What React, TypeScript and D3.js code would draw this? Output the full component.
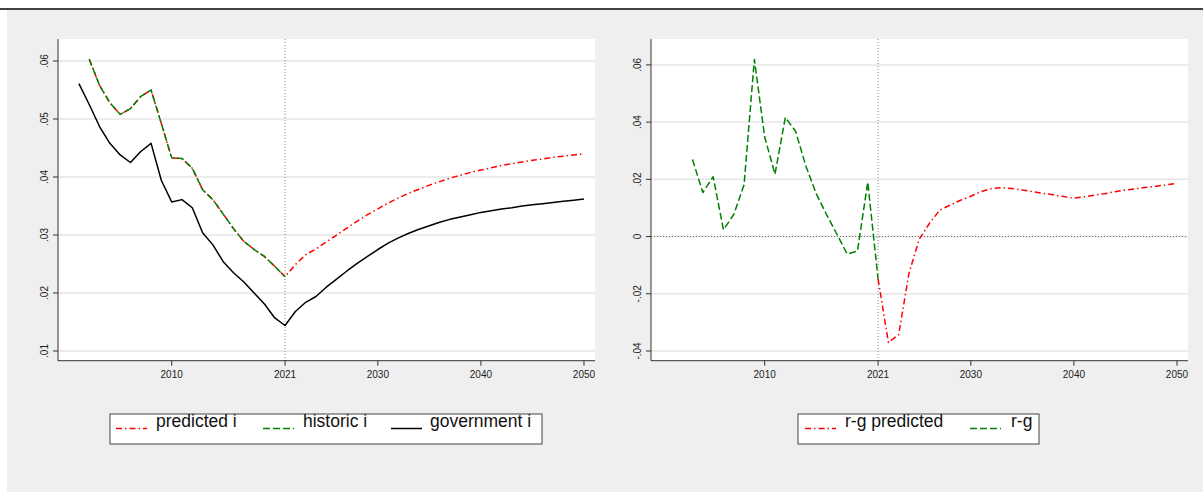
import React from "react";
import * as d3 from "d3";

// ---- data ----
const govStart = 2001;
const govI = [
  0.0561, 0.0525, 0.0487, 0.0458, 0.0438, 0.0425, 0.0444, 0.0458, 0.0394, 0.0357,
  0.0361, 0.0347, 0.0304, 0.0283, 0.0254, 0.0235, 0.0219, 0.0200, 0.0181, 0.0157,
  0.0144, 0.0168, 0.0184, 0.0194, 0.0210, 0.0224, 0.0238, 0.0251, 0.0263, 0.0275,
  0.0286, 0.0295, 0.0303, 0.0310, 0.0316, 0.0322, 0.0327, 0.0331, 0.0335, 0.0339,
  0.0342, 0.0345, 0.0347, 0.0350, 0.0352, 0.0354, 0.0356, 0.0358, 0.0360, 0.0362,
];

const histStart = 2002;
const historicI = [
  0.0603, 0.0558, 0.0528, 0.0508, 0.0518, 0.0539, 0.0550, 0.0492, 0.0433, 0.0432,
  0.0415, 0.0378, 0.0361, 0.0336, 0.0311, 0.0289, 0.0275, 0.0263, 0.0246, 0.0228,
];
// forecast part of predicted i, 2022-2050
const forecastI = [
  0.0249, 0.0266, 0.0276, 0.0288, 0.0300, 0.0312, 0.0324, 0.0335, 0.0345, 0.0355,
  0.0364, 0.0372, 0.0379, 0.0386, 0.0392, 0.0398, 0.0403, 0.0408, 0.0412, 0.0416,
  0.0420, 0.0423, 0.0426, 0.0429, 0.0431, 0.0434, 0.0436, 0.0438, 0.0440,
];
const predictedI = historicI.concat(forecastI);

const rgStart = 2003;
const rgHistoric = [
  0.0269, 0.0154, 0.0209, 0.0024, 0.0077, 0.0181, 0.0619, 0.0348, 0.0218, 0.0416,
  0.0368, 0.0246, 0.0150, 0.0077, 0.0009, -0.0061, -0.0051, 0.0190, -0.0148,
];
const rgPredStart = 2021;
const rgPredicted = [
  -0.0148, -0.0370, -0.0343, -0.0128, -0.0009, 0.0047, 0.0093, 0.0110, 0.0127, 0.0141,
  0.0157, 0.0168, 0.0171, 0.0168, 0.0163, 0.0157, 0.0151, 0.0146, 0.0140, 0.0134,
  0.0139, 0.0145, 0.0150, 0.0157, 0.0163, 0.0167, 0.0172, 0.0176, 0.0181, 0.0186,
];

const xTicks = [2010, 2021, 2030, 2040, 2050];
const leftYTicks = [0.01, 0.02, 0.03, 0.04, 0.05, 0.06];
const leftYLabels = [".01", ".02", ".03", ".04", ".05", ".06"];
const rightYTicks = [-0.04, -0.02, 0, 0.02, 0.04, 0.06];
const rightYLabels = ["-.04", "-.02", "0", ".02", ".04", ".06"];

const RED = "#ff0000";
const GREEN = "#008000";
const DASH = "7,3";
const DASHDOT = "6,3,1.5,3";
const FONT = "'Liberation Sans', Arial, sans-serif";

type Pt = [number, number];
const toPts = (start: number, vals: number[]): Pt[] => vals.map((v, i) => [start + i, v]);

type Series = { pts: Pt[]; color: string; dash?: string };

function Panel(props: {
  x0: number; x1: number; top: number; bottom: number;
  yDomain: [number, number]; yTicks: number[]; yLabels: string[];
  series: Series[]; zeroLine?: boolean; id: string;
}) {
  const { x0, x1, top, bottom, yDomain, yTicks, yLabels, series, zeroLine, id } = props;
  const x = d3.scaleLinear().domain([1998.97, 2051.07]).range([x0, x1]);
  const y = d3.scaleLinear().domain(yDomain).range([bottom, top]);
  const line = d3.line<Pt>().x(d => x(d[0])).y(d => y(d[1]));
  return (
    <g>
      <defs>
        <clipPath id={id}>
          <rect x={x0} y={top} width={x1 - x0} height={bottom - top} />
        </clipPath>
      </defs>
      <rect x={x0} y={top} width={x1 - x0} height={bottom - top} fill="#fff" />
      {yTicks.map(t => (
        <line key={t} x1={x0} x2={x1} y1={y(t)} y2={y(t)} stroke="#e6e6e6" strokeWidth={1.5} />
      ))}
      {zeroLine && (
        <line x1={x0} x2={x1} y1={y(0)} y2={y(0)} stroke="#666" strokeWidth={1} strokeDasharray="1,2" />
      )}
      <line x1={x(2021)} x2={x(2021)} y1={top} y2={bottom} stroke="#888" strokeWidth={1} strokeDasharray="1,2" />
      <g clipPath={`url(#${id})`}>
        {series.map((s, i) => (
          <path key={i} d={line(s.pts) || ""} fill="none" stroke={s.color}
            strokeWidth={1.5} strokeDasharray={s.dash} strokeLinejoin="round" />
        ))}
      </g>
      {/* axes */}
      <line x1={x0} x2={x0} y1={top} y2={bottom} stroke="#333" strokeWidth={1} />
      <line x1={x0} x2={x1} y1={bottom} y2={bottom} stroke="#333" strokeWidth={1} />
      {yTicks.map((t, i) => (
        <g key={t}>
          <line x1={x0 - 5} x2={x0} y1={y(t)} y2={y(t)} stroke="#333" />
          <text transform={`translate(${x0 - 14},${y(t)}) rotate(-90)`} textAnchor="middle"
            dy="0.35em" fontSize={10} fontFamily={FONT} fill="#222">{yLabels[i]}</text>
        </g>
      ))}
      {xTicks.map(t => (
        <g key={t}>
          <line x1={x(t)} x2={x(t)} y1={bottom} y2={bottom + 5} stroke="#333" />
          <text x={x(t)} y={bottom + 17} textAnchor="middle" fontSize={10}
            fontFamily={FONT} fill="#222">{t}</text>
        </g>
      ))}
    </g>
  );
}

function Legend(props: { x: number; w: number; items: { label: string; color: string; dash?: string; sx: number; tx: number }[] }) {
  const { x, w, items } = props;
  return (
    <g>
      <rect x={x} y={414} width={w} height={30} fill="#fff" stroke="#444" strokeWidth={1} />
      {items.map(it => (
        <g key={it.label}>
          <line x1={it.sx} x2={it.sx + 31} y1={428.5} y2={428.5} stroke={it.color}
            strokeWidth={1.5} strokeDasharray={it.dash} />
          <text x={it.tx} y={427} fontSize={17.5} fontFamily={FONT} fill="#111">{it.label}</text>
        </g>
      ))}
    </g>
  );
}

export default function App() {
  const top = 39;
  const bottom = 360.7;
  return (
    <svg width={1203} height={492} style={{ position: "absolute", left: 0, top: 0 }}>
      <rect x={0} y={0} width={1203} height={492} fill="#fff" />
      <rect x={7} y={10} width={1196} height={482} fill="#efefef" />
      <line x1={0} x2={1203} y1={9} y2={9} stroke="#000" strokeWidth={1.5} />
      <Panel id="clipL" x0={58} x1={595} top={top} bottom={bottom}
        yDomain={[0.01 - 10 / 5980, 0.01 + 321.7 / 5980]}
        yTicks={leftYTicks} yLabels={leftYLabels}
        series={[
          { pts: toPts(histStart, predictedI), color: RED, dash: DASHDOT },
          { pts: toPts(histStart, historicI), color: GREEN, dash: DASH },
          { pts: toPts(govStart, govI), color: "#000" },
        ]} />
      <Panel id="clipR" x0={651} x1={1188} top={top} bottom={bottom}
        yDomain={[-0.04 - 10 / 2950, -0.04 + 321.7 / 2950]}
        yTicks={rightYTicks} yLabels={rightYLabels} zeroLine
        series={[
          { pts: toPts(rgPredStart, rgPredicted), color: RED, dash: DASHDOT },
          { pts: toPts(rgStart, rgHistoric), color: GREEN, dash: DASH },
        ]} />
      <Legend x={110} w={432} items={[
        { label: "predicted i", color: RED, dash: DASHDOT, sx: 116, tx: 156 },
        { label: "historic i", color: GREEN, dash: DASH, sx: 263, tx: 303 },
        { label: "government i", color: "#000", sx: 391, tx: 430 },
      ]} />
      <Legend x={798} w={241} items={[
        { label: "r-g predicted", color: RED, dash: DASHDOT, sx: 805, tx: 845 },
        { label: "r-g", color: GREEN, dash: DASH, sx: 970, tx: 1011 },
      ]} />
    </svg>
  );
}
